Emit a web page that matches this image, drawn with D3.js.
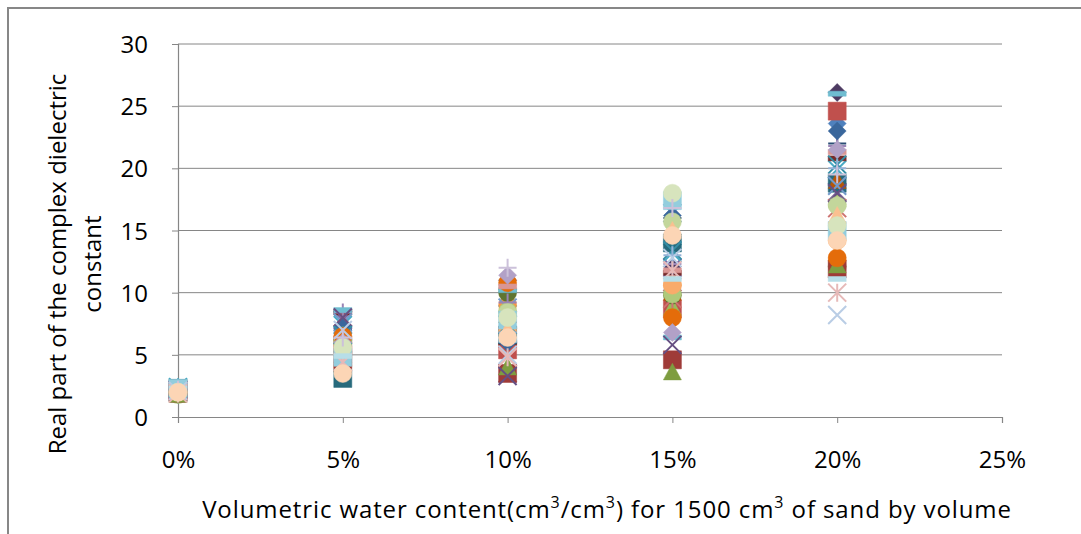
<!DOCTYPE html>
<html>
<head>
<meta charset="utf-8">
<script src="https://cdn.jsdelivr.net/npm/d3@7"></script>
<style>
  body { margin: 0; background: #fff; }
  text { font-family: "Open Sans", "Noto Sans", sans-serif; fill: #000; }
</style>
</head>
<body>
<div id="chart"></div>
<script>
// water content levels (x) and dielectric readings, one array per level
var waterLevels = [0, 0.05, 0.10, 0.15, 0.20];
var xTicks = [0, 0.05, 0.10, 0.15, 0.20, 0.25];
var yTicks = [0, 5, 10, 15, 20, 25, 30];

// value of each series at 0%, 5%, 10%, 15%, 20%
var at0  = [2.0, 2.1, 1.9, 2.2, 2.4, 2.0, 1.8, 2.1, 1.9, 2.2, 2.3, 1.9, 2.0, 2.1, 1.8, 2.3, 2.4, 2.0,
            2.1, 1.9, 1.8, 2.2, 2.3, 2.0, 2.1, 1.9, 2.0, 2.2, 2.3, 2.0, 2.1, 1.9, 2.0, 2.2, 2.3, 2.0];
var at5  = [6.8, 5.8, 5.0, 7.8, 7.4, 3.8, 7.0, 8.4, 6.2, 7.3, 3.1, 4.3, 7.6, 8.0, 6.0, 8.4, 8.6, 4.1,
            7.2, 4.6, 6.4, 8.0, 6.6, 6.5, 3.8, 5.5, 5.2, 6.0, 4.8, 5.4, 7.0, 4.4, 5.6, 6.4, 4.9, 3.5];
var at10 = [7.2, 5.4, 4.0, 3.5, 9.6, 9.0, 6.2, 6.0, 10.0, 11.0, 6.6, 8.2, 8.8, 7.8, 8.5, 9.2, 10.2, 6.9,
            6.0, 3.5, 4.0, 3.3, 7.4, 10.8, 6.8, 10.5, 8.4, 11.4, 7.8, 7.0, 5.0, 4.8, 8.0, 12.0, 6.2, 6.4];
var at15 = [10.2, 8.7, 8.8, 12.0, 13.2, 10.6, 16.0, 11.6, 9.8, 12.1, 14.0, 10.0, 16.4, 9.5, 9.9, 12.3, 6.4, 10.6,
            16.2, 4.6, 3.6, 5.8, 13.4, 8.0, 13.0, 11.8, 15.7, 6.8, 17.4, 15.0, 12.8, 11.8, 18.0, 16.8, 11.1, 14.6];
var at20 = [23.6, 24.6, 17.5, 18.1, 19.9, 12.6, 22.0, 20.8, 12.1, 26.1, 18.8, 19.0, 18.6, 16.8, 17.1, 21.8, 26.0, 14.2,
            23.0, 11.9, 12.2, 18.0, 20.3, 12.8, 20.0, 21.3, 17.0, 21.5, 15.0, 16.2, 8.2, 10.0, 15.4, 19.5, 11.1, 14.2];

var seriesValues = [at0, at5, at10, at15, at20];

// excel-like automatic styles
var colors = ["#4F81BD", "#C0504D", "#9BBB59", "#8064A2", "#4BACC6", "#F79646",
              "#2C4D75", "#772C2A", "#5F7530", "#4D3B62", "#276A7C", "#B65708",
              "#729ACA", "#CD7371", "#AFC97A", "#9983B5", "#6FBDD1", "#F9AB6B",
              "#3A679C", "#9F3B38", "#7E9D40", "#664F83", "#358EA6", "#E46C0A",
              "#95B3D7", "#D99694", "#C3D69B", "#B2A1C7", "#93CDDD", "#FAC090",
              "#B9CDE5", "#E6B9B8", "#D7E4BD", "#CCC1DA", "#B7DEE8", "#FCD5B5"];
var shapes = ["diamond", "square", "triangle", "x", "star", "circle", "plus", "dash", "circle"];

var svgWidth = 1081;
var svgHeight = 534;

var svg = d3.select("#chart")
  .append("svg")
  .attr("width", svgWidth)
  .attr("height", svgHeight);

// outer frame (only top and left edges show in the picture)
svg.append("path")
  .attr("d", "M8,534 L8,8 L1081,8")
  .attr("fill", "none")
  .attr("stroke", "#878787")
  .attr("stroke-width", 2);

var xScale = d3.scaleLinear().domain([0, 0.25]).range([178, 1002]);
var yScale = d3.scaleLinear().domain([0, 30]).range([417, 44]);

// gridlines
svg.append("g")
  .selectAll("line")
  .data(yTicks.filter(d => d > 0))
  .enter().append("line")
  .attr("x1", xScale(0))
  .attr("x2", xScale(0.25))
  .attr("y1", d => yScale(d))
  .attr("y2", d => yScale(d))
  .attr("stroke", "#868686")
  .attr("stroke-width", 1);

var leftAxis = d3.axisLeft(yScale).tickValues(yTicks).tickSize(6).tickPadding(24);
var bottomAxis = d3.axisBottom(xScale).tickValues(xTicks).tickSize(6).tickPadding(28)
  .tickFormat(d3.format(".0%"));

var yAxisG = svg.append("g")
  .attr("transform", `translate(${xScale(0)},0)`)
  .call(leftAxis);
var xAxisG = svg.append("g")
  .attr("transform", `translate(0,${yScale(0)})`)
  .call(bottomAxis);

[yAxisG, xAxisG].forEach(function(g) {
  g.select(".domain").attr("stroke", "#868686").attr("stroke-width", 1.2);
  g.selectAll(".tick line").attr("stroke", "#868686");
  g.selectAll(".tick text")
    .style("font-family", '"Open Sans", sans-serif')
    .style("font-size", "24px")
    .attr("fill", "#000");
});
yAxisG.selectAll(".tick text").attr("dy", "0.36em");

// marker shapes, r = half size
function markerPath(shape, r) {
  switch (shape) {
    case "diamond":
      return `M0,${-r}L${r},0L0,${r}L${-r},0Z`;
    case "square":
      return `M${-r},${-r}H${r}V${r}H${-r}Z`;
    case "triangle":
      return `M0,${-r}L${r},${r * 0.85}L${-r},${r * 0.85}Z`;
    case "circle":
      return d3.arc()({innerRadius: 0, outerRadius: r, startAngle: 0, endAngle: 2 * Math.PI});
    case "dash":
      return `M${-r},-2.5H${r}V2.5H${-r}Z`;
    case "x":
      return `M${-r},${-r}L${r},${r}M${r},${-r}L${-r},${r}`;
    case "star":
      return `M${-r},${-r}L${r},${r}M${r},${-r}L${-r},${r}M0,${-r}V${r}`;
    case "plus":
      return `M${-r},0H${r}M0,${-r}V${r}`;
  }
}

var series = colors.map(function(c, i) {
  return waterLevels.map((w, j) => ({ x: w, y: seriesValues[j][i] }));
});

var markerGroup = svg.append("g");
series.forEach(function(points, i) {
  var shape = shapes[i % shapes.length];
  var lineOnly = (shape === "x" || shape === "star" || shape === "plus");
  markerGroup.append("g")
    .selectAll("path")
    .data(points)
    .enter().append("path")
    .attr("transform", d => `translate(${xScale(d.x)},${yScale(d.y)})`)
    .attr("d", markerPath(shape, 9))
    .attr("fill", lineOnly ? "none" : colors[i])
    .attr("stroke", colors[i])
    .attr("stroke-width", lineOnly ? 2 : 0.5);
});

// y axis title, two lines
var yTitle = svg.append("text")
  .attr("transform", "translate(66,264) rotate(-90)")
  .attr("text-anchor", "middle")
  .style("font-size", "24px");
yTitle.append("tspan").attr("x", 0).attr("dy", 0).text("Real part of the complex dielectric");
yTitle.append("tspan").attr("x", 0).attr("dy", "1.45em").text("constant");

// x axis title with superscripts
var xTitle = svg.append("text")
  .attr("x", 607)
  .attr("y", 518)
  .attr("text-anchor", "middle")
  .style("font-size", "24px")
  .style("letter-spacing", "0.9px");
xTitle.append("tspan").text("Volumetric water content(cm");
xTitle.append("tspan").attr("dy", -10).style("font-size", "16px").text("3");
xTitle.append("tspan").attr("dy", 10).text("/cm");
xTitle.append("tspan").attr("dy", -10).style("font-size", "16px").text("3");
xTitle.append("tspan").attr("dy", 10).text(") for 1500 cm");
xTitle.append("tspan").attr("dy", -10).style("font-size", "16px").text("3");
xTitle.append("tspan").attr("dy", 10).text(" of sand by volume");
</script>
</body>
</html>
